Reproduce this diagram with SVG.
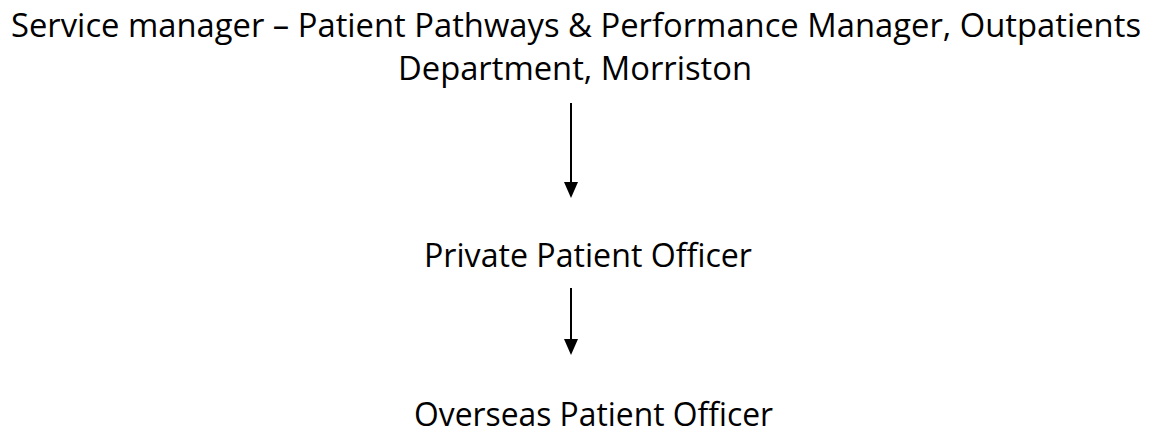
<svg xmlns="http://www.w3.org/2000/svg" width="1153" height="438" viewBox="0 0 1153 438">
<style>
text{font-family:"Open Sans","Noto Sans",sans-serif;font-size:33px;fill:#000}
.c{stroke:#000;stroke-width:2;fill:none}
</style>
<rect width="1153" height="438" fill="#fff"/>
<g id="n1">
<text x="11" y="37" textLength="1130" lengthAdjust="spacingAndGlyphs">Service manager – Patient Pathways &amp; Performance Manager, Outpatients</text>
<text x="398" y="80" textLength="354" lengthAdjust="spacingAndGlyphs">Department, Morriston</text>
</g>
<g id="n2">
<text x="424" y="267" textLength="328" lengthAdjust="spacingAndGlyphs">Private Patient Officer</text>
</g>
<g id="n3">
<text x="414" y="426" textLength="359" lengthAdjust="spacingAndGlyphs">Overseas Patient Officer</text>
</g>
<g id="connectors">
<path class="c" d="M571 103V184"/>
<path d="M564 182L578 182L571 198Z"/>
<path class="c" d="M571 288V341"/>
<path d="M564 339L578 339L571 355Z"/>
</g>
</svg>
